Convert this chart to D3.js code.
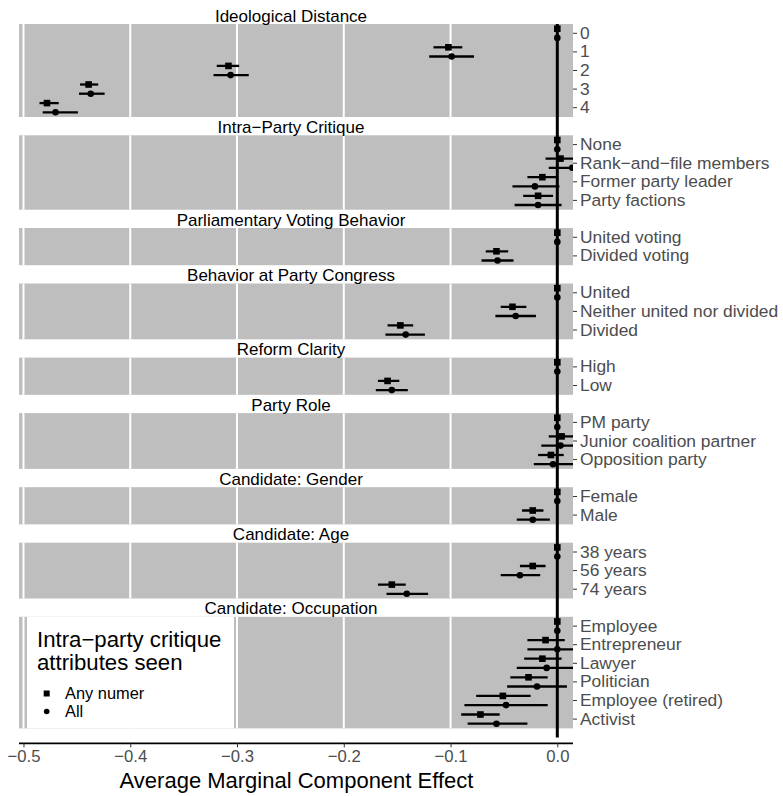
<!DOCTYPE html>
<html>
<head>
<meta charset="utf-8">
<script src="https://cdn.jsdelivr.net/npm/d3@7"></script>
<style>
  body { margin: 0; background: #fff; }
  text { font-family: "Liberation Sans", Arial, sans-serif; }
</style>
</head>
<body>
<div id="chart"></div>
<script>
// facet titles and attribute levels
const facetTitles = ['Ideological Distance', 'Intra\u2212Party Critique', 'Parliamentary Voting Behavior',
  'Behavior at Party Congress', 'Reform Clarity', 'Party Role', 'Candidate: Gender',
  'Candidate: Age', 'Candidate: Occupation'];

const facetLevels = [
  ['0', '1', '2', '3', '4'],
  ['None', 'Rank\u2212and\u2212file members', 'Former party leader', 'Party factions'],
  ['United voting', 'Divided voting'],
  ['United', 'Neither united nor divided', 'Divided'],
  ['High', 'Low'],
  ['PM party', 'Junior coalition partner', 'Opposition party'],
  ['Female', 'Male'],
  ['38 years', '56 years', '74 years'],
  ['Employee', 'Entrepreneur', 'Lawyer', 'Politician', 'Employee (retired)', 'Activist']
];

const seriesNames = ['Any numer', 'All'];

// "Any numer" estimates and intervals
const anyEst = [[0, -0.102, -0.308, -0.439, -0.478], [0, 0.003, -0.014, -0.018], [0, -0.057],
  [0, -0.042, -0.147], [0, -0.159], [0, 0.004, -0.006], [0, -0.023], [0, -0.023, -0.155],
  [0, -0.011, -0.014, -0.027, -0.051, -0.072]];
const anyLo = [[0, -0.116, -0.319, -0.447, -0.485], [0, -0.011, -0.028, -0.032], [0, -0.067],
  [0, -0.053, -0.159], [0, -0.168], [0, -0.008, -0.018], [0, -0.033], [0, -0.035, -0.168],
  [0, -0.028, -0.031, -0.044, -0.076, -0.090]];
const anyHi = [[0, -0.089, -0.298, -0.430, -0.467], [0, 0.016, 0.000, -0.004], [0, -0.046],
  [0, -0.029, -0.135], [0, -0.148], [0, 0.016, 0.006], [0, -0.013], [0, -0.011, -0.142],
  [0, 0.007, 0.004, -0.009, -0.025, -0.054]];

// "All" estimates and intervals
const allEst = [[0, -0.099, -0.306, -0.437, -0.470], [0, 0.014, -0.021, -0.018], [0, -0.056],
  [0, -0.039, -0.142], [0, -0.155], [0, 0.003, -0.004], [0, -0.023], [0, -0.035, -0.141],
  [0, 0.000, -0.010, -0.019, -0.048, -0.057]];
const allLo = [[0, -0.120, -0.322, -0.448, -0.482], [0, -0.008, -0.042, -0.040], [0, -0.071],
  [0, -0.058, -0.161], [0, -0.170], [0, -0.015, -0.022], [0, -0.038], [0, -0.053, -0.160],
  [0, -0.028, -0.038, -0.047, -0.087, -0.084]];
const allHi = [[0, -0.078, -0.289, -0.424, -0.449], [0, 0.036, 0.002, 0.004], [0, -0.041],
  [0, -0.020, -0.124], [0, -0.140], [0, 0.021, 0.015], [0, -0.007], [0, -0.016, -0.121],
  [0, 0.028, 0.020, 0.009, -0.009, -0.028]];

const xTicks = [-0.5, -0.4, -0.3, -0.2, -0.1, 0.0];

// layout
let svgWidth = 783;
let svgHeight = 796;
let panelLeft = 19, panelRight = 573;
let panelTop = 24;
let rowH = 18.6;
let gapH = 18.3;

let svg = d3.select('#chart').append('svg')
  .attr('width', svgWidth)
  .attr('height', svgHeight);

let x = d3.scaleLinear()
  .domain([-0.5042, 0.0147])
  .range([panelLeft, panelRight]);

let dodge = d3.scalePoint()
  .domain(seriesNames)
  .range([-4.6, 4.6]);

// build panel positions
let panels = [];
let curTop = panelTop;
facetTitles.forEach((title, i) => {
  let h = facetLevels[i].length * rowH;
  let y = d3.scaleBand().domain(facetLevels[i]).range([curTop, curTop + h]).padding(0);
  panels.push({ title: title, i: i, top: curTop, h: h, y: y });
  curTop += h + gapH;
});
let lastPanel = panels[panels.length - 1];
let axisY = lastPanel.top + lastPanel.h + 15;

svg.append('defs').selectAll('clipPath')
  .data(panels)
  .enter()
  .append('clipPath')
  .attr('id', d => 'clip' + d.i)
  .append('rect')
  .attr('x', panelLeft)
  .attr('y', d => d.top)
  .attr('width', panelRight - panelLeft)
  .attr('height', d => d.h);

panels.forEach(p => {
  let g = svg.append('g');

  g.append('rect')
    .attr('x', panelLeft)
    .attr('y', p.top)
    .attr('width', panelRight - panelLeft)
    .attr('height', p.h)
    .attr('fill', '#bebebe');

  g.selectAll('.grid')
    .data(xTicks.slice(0, -1))
    .enter()
    .append('line')
    .attr('x1', d => x(d)).attr('x2', d => x(d))
    .attr('y1', p.top).attr('y2', p.top + p.h)
    .attr('stroke', '#fff')
    .attr('stroke-width', 2);

  g.append('text')
    .attr('x', 291)
    .attr('y', p.top - 2.4)
    .attr('text-anchor', 'middle')
    .attr('font-size', '17px')
    .attr('fill', '#000')
    .text(p.title);

  // y tick marks and labels
  let yAxis = d3.axisRight(p.y).tickSize(4).tickPadding(3);
  let ya = g.append('g')
    .attr('transform', `translate(${panelRight}, 0)`)
    .call(yAxis);
  ya.select('.domain').remove();
  ya.selectAll('line').attr('stroke', '#333').attr('stroke-width', 1);
  ya.selectAll('text')
    .attr('font-size', '17.4px')
    .attr('fill', '#4d4d4d')
    .attr('font-family', '"Liberation Sans", Arial, sans-serif');
});

// zero reference line
svg.append('line')
  .attr('x1', x(0)).attr('x2', x(0))
  .attr('y1', panelTop).attr('y2', lastPanel.top + lastPanel.h + 9)
  .attr('stroke', '#000')
  .attr('stroke-width', 3);

// marks
panels.forEach(p => {
  let rows = [];
  facetLevels[p.i].forEach((lev, j) => {
    rows.push({ s: 'Any numer', lev: lev, est: anyEst[p.i][j], lo: anyLo[p.i][j], hi: anyHi[p.i][j] });
    rows.push({ s: 'All', lev: lev, est: allEst[p.i][j], lo: allLo[p.i][j], hi: allHi[p.i][j] });
  });
  let cy = d => p.y(d.lev) + p.y.bandwidth() / 2 + dodge(d.s);

  let g = svg.append('g').attr('clip-path', `url(#clip${p.i})`);

  g.selectAll('.bar')
    .data(rows)
    .enter()
    .append('line')
    .attr('x1', d => x(d.lo)).attr('x2', d => x(d.hi))
    .attr('y1', cy).attr('y2', cy)
    .attr('stroke', '#000')
    .attr('stroke-width', 2.3);

  g.selectAll('.sq')
    .data(rows.filter(d => d.s === 'Any numer'))
    .enter()
    .append('rect')
    .attr('x', d => x(d.est) - 3.3)
    .attr('y', d => cy(d) - 3.3)
    .attr('width', 6.6).attr('height', 6.6)
    .attr('fill', '#000');

  g.selectAll('.dot')
    .data(rows.filter(d => d.s === 'All'))
    .enter()
    .append('circle')
    .attr('cx', d => x(d.est))
    .attr('cy', cy)
    .attr('r', 3.3)
    .attr('fill', '#000');
});

// x axis
let xa = svg.append('g')
  .attr('transform', `translate(0, ${axisY})`)
  .call(d3.axisBottom(x).tickValues(xTicks).tickSize(4).tickPadding(3)
    .tickFormat(d => d3.format('.1f')(d).replace('-', '\u2212')));
xa.select('.domain')
  .attr('d', `M${panelLeft},0H${panelRight}`)
  .attr('stroke', '#000')
  .attr('stroke-width', 1.6);
xa.selectAll('.tick line').attr('stroke', '#333');
xa.selectAll('.tick text')
  .attr('font-size', '16.7px')
  .attr('fill', '#4d4d4d')
  .attr('font-family', '"Liberation Sans", Arial, sans-serif');

svg.append('text')
  .attr('x', 296.5)
  .attr('y', axisY + 45)
  .attr('text-anchor', 'middle')
  .attr('font-size', '22px')
  .attr('fill', '#000')
  .text('Average Marginal Component Effect');

// legend inside bottom panel
let legend = svg.append('g');
legend.append('rect')
  .attr('x', 27)
  .attr('y', lastPanel.top)
  .attr('width', 207)
  .attr('height', lastPanel.h)
  .attr('fill', '#fff');

legend.append('text')
  .attr('x', 37)
  .attr('y', 646.5)
  .attr('font-size', '22.2px')
  .attr('fill', '#000')
  .text('Intra\u2212party critique');
legend.append('text')
  .attr('x', 37)
  .attr('y', 670)
  .attr('font-size', '22.2px')
  .attr('fill', '#000')
  .text('attributes seen');

let keyY = d3.scalePoint().domain(seriesNames).range([693.5, 711.5]);
legend.append('rect')
  .attr('x', 46.7 - 3)
  .attr('y', keyY('Any numer') - 3)
  .attr('width', 6).attr('height', 6)
  .attr('fill', '#000');
legend.append('circle')
  .attr('cx', 46.7)
  .attr('cy', keyY('All'))
  .attr('r', 2.8)
  .attr('fill', '#000');
legend.selectAll('.lab')
  .data(seriesNames)
  .enter()
  .append('text')
  .attr('x', 65)
  .attr('y', d => keyY(d))
  .attr('dy', '0.35em')
  .attr('font-size', '16.4px')
  .attr('fill', '#000')
  .text(d => d);
</script>
</body>
</html>
